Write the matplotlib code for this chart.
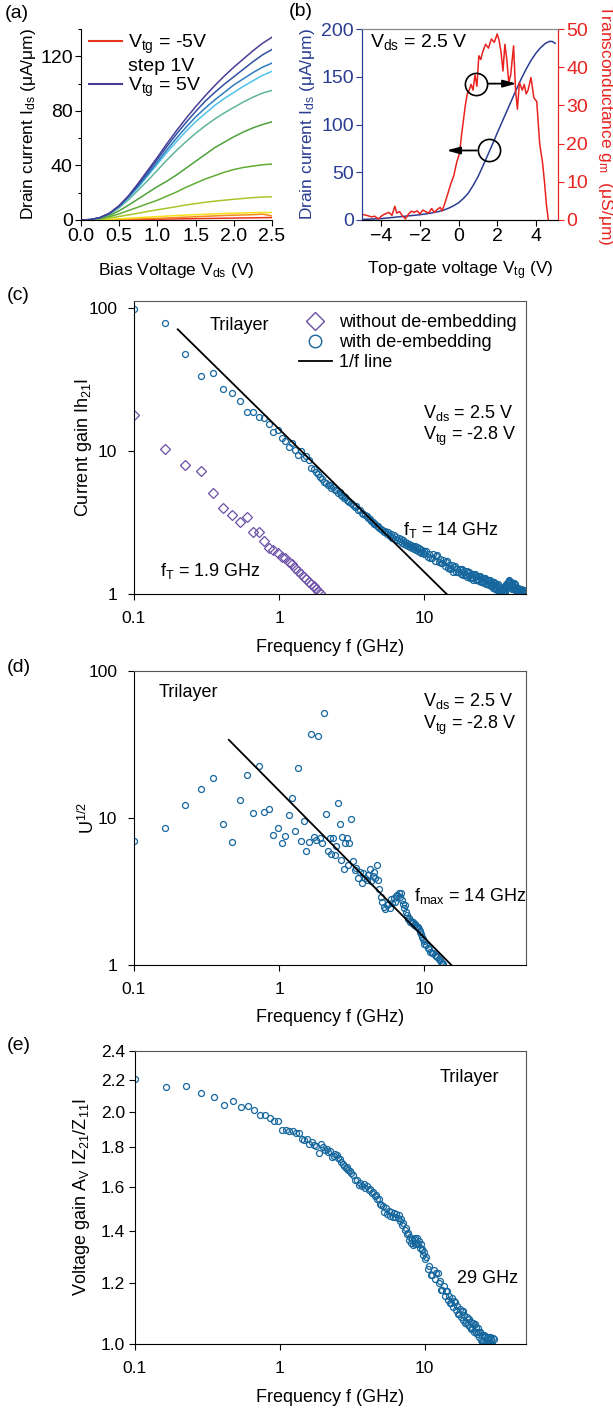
import matplotlib
matplotlib.use("Agg")
import matplotlib.pyplot as plt
from matplotlib.lines import Line2D
from matplotlib.ticker import (FixedLocator, FixedFormatter, NullLocator,
                               MultipleLocator, FormatStrFormatter)

plt.rcParams["font.family"] = ["Liberation Sans", "DejaVu Sans"]
plt.rcParams["mathtext.default"] = "regular"

W, H = 613, 1412

# ---------------- (a) output curves ----------------
bias_v = [0.0, 0.125, 0.25, 0.375, 0.5, 0.625, 0.75, 0.875, 1.0, 1.125, 1.25,
          1.375, 1.5, 1.625, 1.75, 1.875, 2.0, 2.125, 2.25, 2.375, 2.5]
vtg_levels = [-5, -4, -3, -2, -1, 0, 1, 2, 3, 4, 5]
ids_curves = [
    [0, 0, 0, 0.1, 0.2, 0.3, 0.4, 0.5, 0.6, 0.7, 0.8, 0.9, 1.0, 1.1, 1.2, 1.3, 1.4, 1.5, 1.6, 1.7, 1.8],
    [0, 0, 0.1, 0.2, 0.4, 0.6, 0.8, 1.0, 1.2, 1.5, 1.8, 2.1, 2.4, 2.7, 3.0, 3.3, 3.5, 3.7, 3.9, 4.3, 3.0],
    [0, 0, 0.2, 0.5, 0.9, 1.3, 1.7, 2.1, 2.5, 2.9, 3.3, 3.6, 3.9, 4.2, 4.5, 4.8, 5.0, 5.2, 5.4, 5.5, 5.5],
    [0, 0.1, 0.6, 1.5, 2.6, 3.8, 5.0, 6.3, 7.5, 8.6, 9.8, 11, 12, 13, 13.8, 14.5, 15.2, 15.8, 16.4, 16.8, 17],
    [0, 0.2, 1.0, 2.5, 4.5, 7.0, 9.5, 12, 14.5, 17.5, 20.5, 24, 27, 30, 32.5, 35, 37, 38.5, 39.5, 40.5, 41],
    [0, 0.3, 1.3, 3.5, 6.8, 11, 15.5, 20, 24.5, 28.5, 33, 38, 43, 48, 53, 57, 61, 64.5, 67.5, 70, 72],
    [0, 0.3, 1.6, 4.4, 9.0, 15, 22, 29, 36.5, 44, 51, 57.5, 63.5, 69, 74, 78.5, 82.5, 86.5, 90, 93, 95],
    [0, 0.3, 1.7, 4.7, 9.8, 16.5, 24, 32.5, 41, 49.5, 57.5, 65, 72, 78, 84, 89, 93.5, 98, 102, 106, 109],
    [0, 0.3, 1.7, 4.8, 10, 17, 25, 33.5, 42.5, 51.5, 60, 68, 75.5, 82, 88, 93.5, 99, 103.5, 108, 112, 115],
    [0, 0.3, 1.8, 5.0, 10.5, 17.5, 26, 35, 44.5, 54, 63, 71.5, 79.5, 87, 93.5, 99.5, 105, 110.5, 116, 121, 125],
    [0, 0.3, 1.8, 5.0, 10.5, 18, 27, 36.5, 46, 56, 65.5, 74.5, 83, 91, 98.5, 105.5, 112, 118, 124, 129.5, 134],
]
curve_colors = ["#e8341f", "#f28a1e", "#f7e01a", "#a8c62a", "#62ad33", "#4fa23a",
                "#5fb59c", "#4fc3e8", "#2f7cc0", "#2f4f9f", "#4a3d97"]

# ---------------- (b) transfer curve ----------------
vtg_ids = [-5.0, -4.5, -4.0, -3.5, -3.0, -2.5, -2.0, -1.5, -1.0, -0.75, -0.5, -0.25,
           0.0, 0.25, 0.5, 0.75, 1.0, 1.25, 1.5, 1.75, 2.0, 2.25, 2.5, 2.75, 3.0,
           3.25, 3.5, 3.75, 4.0, 4.25, 4.5, 4.7, 4.85, 5.0]
ids_vtg = [0.5, 1, 1.5, 2.5, 3.5, 4.5, 5.5, 7, 9, 10.5, 12.5, 15,
           18, 22.5, 28, 36, 45, 56, 67.5, 79, 91, 102.5, 114, 125.5, 137,
           148, 158, 167, 174.5, 180.5, 185, 187, 187, 185]
vtg_gm = [-4.92, -4.75, -4.5, -4.35, -4.15, -3.95, -3.8, -3.6, -3.45, -3.3, -3.2, -3.05,
          -2.9, -2.75, -2.6, -2.45, -2.3, -2.15, -2.0, -1.85, -1.7, -1.55, -1.4, -1.25,
          -1.1, -0.95, -0.85, -0.7, -0.55, -0.4, -0.25, -0.1, 0.05, 0.15, 0.25, 0.35,
          0.45, 0.55, 0.65, 0.75, 0.85, 0.95, 1.05, 1.15, 1.25, 1.4, 1.55, 1.7, 1.85,
          2.0, 2.1, 2.2, 2.3, 2.4, 2.5, 2.6, 2.7, 2.85, 2.95, 3.05, 3.15, 3.3, 3.4,
          3.5, 3.6, 3.75, 3.9, 4.05, 4.2, 4.35, 4.45, 4.55, 4.65]
gm_vtg = [1.4, 1.2, 0.8, 1.0, 0.3, 1.2, 1.6, 2.0, 1.2, 3.6, 1.8, 2.2,
          1.0, 0.3, 1.5, 2.3, 2.0, 2.4, 1.6, 2.6, 2.2, 1.8, 3.0, 2.0,
          2.8, 3.3, 2.4, 4.5, 7.0, 9.5, 11.5, 15.0, 17.5, 22, 26, 30,
          33, 34, 35.5, 34, 38, 35, 43, 42, 44, 46, 45, 47.4, 46.5,
          48.7, 47, 44, 39, 46, 42, 36, 38, 45.6, 34, 29, 36, 34, 35.5,
          33, 34, 37.3, 32, 31, 20, 15, 10, 4, 0]

# ---------------- (c)-(e) RF data, common frequency sweep (GHz) ----------------
freq_ghz = [
    0.1, 0.1625, 0.225, 0.2875, 0.35, 0.4125, 0.475, 0.5375, 0.6, 0.6625,
    0.725, 0.7875, 0.85, 0.9125, 0.975, 1.0375, 1.1, 1.1625, 1.225, 1.2875,
    1.35, 1.4125, 1.475, 1.5375, 1.6, 1.6625, 1.725, 1.7875, 1.85, 1.9125,
    1.975, 2.0375, 2.1, 2.1625, 2.225, 2.2875, 2.35, 2.4125, 2.475, 2.5375,
    2.6, 2.6625, 2.725, 2.7875, 2.85, 2.9125, 2.975, 3.0375, 3.1,
    3.2, 3.3, 3.4, 3.5, 3.6, 3.7, 3.8, 3.9, 4.0, 4.1,
    4.2, 4.3, 4.4, 4.5, 4.6, 4.7, 4.8, 4.9, 5.0,
    5.125, 5.25, 5.375, 5.5, 5.625, 5.75, 5.875, 6.0, 6.125, 6.25,
    6.375, 6.5, 6.625, 6.75, 6.875, 7.0, 7.125, 7.25, 7.375, 7.5,
    7.625, 7.75, 7.875, 8.0, 8.125, 8.25, 8.375, 8.5, 8.625, 8.75,
    8.875, 9.0, 9.125, 9.25, 9.375, 9.5, 9.625, 9.75, 9.875, 10.0,
    10.25, 10.5, 10.75, 11.0, 11.25, 11.5, 11.75, 12.0, 12.25, 12.5, 12.75, 13.0,
    13.25, 13.5, 13.75, 14.0, 14.25, 14.5, 14.75, 15.0, 15.25, 15.5, 15.75, 16.0,
    16.25, 16.5, 16.75, 17.0, 17.25, 17.5, 17.75, 18.0, 18.25, 18.5, 18.75, 19.0,
    19.25, 19.5, 19.75, 20.0, 20.25, 20.5, 20.75, 21.0, 21.25, 21.5, 21.75, 22.0,
    22.25, 22.5, 22.75, 23.0, 23.25, 23.5, 23.75, 24.0, 24.25, 24.5, 24.75, 25.0,
    25.25, 25.5, 25.75, 26.0, 26.25, 26.5, 26.75, 27.0, 27.25, 27.5, 27.75, 28.0,
    28.25, 28.5, 28.75, 29.0, 29.25, 29.5, 29.75, 30.0, 30.25, 30.5, 30.75, 31.0,
    31.25, 31.5, 31.75, 32.0, 32.25, 32.5, 32.75, 33.0, 33.25, 33.5, 33.75, 34.0,
    34.25, 34.5, 34.75, 35.0, 35.25, 35.5, 35.75, 36.0, 36.25, 36.5, 36.75, 37.0,
    37.25, 37.5, 37.75, 38.0, 38.25, 38.5, 38.75, 39.0, 39.25, 39.5, 39.75, 40.0,
    40.25, 40.5, 40.75, 41.0, 41.25, 41.5, 41.75, 42.0, 42.25, 42.5, 42.75, 43.0,
    43.25, 43.5, 43.75, 44.0, 44.25, 44.5, 44.75, 45.0, 45.25, 45.5, 45.75, 46.0,
    46.25, 46.5, 46.75, 47.0, 47.25, 47.5, 47.75, 48.0, 48.25, 48.5, 48.75, 49.0,
    49.25, 49.5, 49.75, 50.0,
]

h21_raw = [17.9, 10.4, 8.0, 7.3, 5.06, 3.97, 3.57, 3.2, 3.47, 2.7,
           2.73, 2.35, 2.11, 2.03, 1.92, 1.82, 1.78, 1.68, 1.61, 1.51,
           1.45, 1.38, 1.32, 1.27, 1.22, 1.17, 1.13, 1.09, 1.05, 1.01]

h21_deemb = [
    98, 78, 47.5, 33.5, 35, 27, 25.6, 22.4, 18.8, 18.7,
    17.4, 16.9, 15.4, 13.5, 14.0, 12.3, 11.7, 10.7, 11.3, 10.2,
    9.4, 10.0, 8.9, 9.2, 8.6, 7.6, 7.5, 7.1, 6.9, 6.6,
    6.4, 6.1, 6.0, 5.8, 5.75, 5.55, 5.6, 5.35, 5.3, 5.1,
    5.15, 4.95, 4.85, 4.7, 4.75, 4.55, 4.5, 4.4, 4.35,
    4.22, 4.05, 4.1, 3.88, 3.85, 3.7, 3.62, 3.55, 3.5, 3.38,
    3.35, 3.22, 3.2, 3.1, 3.08, 2.98, 2.97, 2.88, 2.84,
    2.80, 2.70, 2.76, 2.62, 2.70, 2.56, 2.62, 2.48, 2.57, 2.44,
    2.51, 2.38, 2.47, 2.34, 2.41, 2.28, 2.37, 2.24, 2.32, 2.20,
    2.28, 2.16, 2.24, 2.12, 2.21, 2.09, 2.18, 2.06, 2.15, 2.03,
    2.12, 2.00, 2.09, 1.97, 2.06, 1.94, 2.03, 1.92, 2.00, 1.89,
    2.01, 1.81, 1.91, 1.79, 1.80, 1.89, 1.71, 1.83, 1.86, 1.68, 1.76, 1.66,
    1.66, 1.74, 1.57, 1.68, 1.69, 1.53, 1.60, 1.50, 1.51, 1.59, 1.43, 1.55,
    1.56, 1.42, 1.50, 1.42, 1.42, 1.50, 1.37, 1.47, 1.49, 1.35, 1.44, 1.36,
    1.36, 1.44, 1.31, 1.41, 1.43, 1.30, 1.38, 1.30, 1.31, 1.38, 1.26, 1.36,
    1.39, 1.26, 1.34, 1.26, 1.27, 1.34, 1.23, 1.32, 1.34, 1.22, 1.30, 1.22,
    1.23, 1.30, 1.19, 1.28, 1.30, 1.18, 1.25, 1.18, 1.20, 1.26, 1.15, 1.24,
    1.26, 1.14, 1.21, 1.14, 1.16, 1.22, 1.11, 1.19, 1.21, 1.09, 1.16, 1.10,
    1.11, 1.16, 1.06, 1.14, 1.17, 1.06, 1.12, 1.06, 1.06, 1.11, 1.02, 1.09,
    1.11, 1.01, 1.07, 1.03, 1.05, 1.12, 1.04, 1.13, 1.18, 1.08, 1.16, 1.12,
    1.14, 1.22, 1.12, 1.23, 1.25, 1.14, 1.21, 1.14, 1.15, 1.21, 1.09, 1.17,
    1.19, 1.08, 1.14, 1.10, 1.12, 1.20, 1.08, 1.16, 1.17, 1.06, 1.11, 1.05,
    1.05, 1.10, 1.01, 1.08, 1.10, 1.01, 1.06, 1.01, 1.02, 1.08, 0.99, 1.06,
    1.08, 1.00, 1.05, 1.00, 1.00, 1.06, 0.99, 1.05, 1.07, 1.00, 1.04, 0.99,
    1.00, 1.05, 0.99, 1.04,
]
one_over_f_c = ([0.2, 14.2], [71, 1])

u_half = [
    7.0, 8.6, 12.3, 15.7, 18.7, 9.1, 6.9, 13.3, 19.7, 10.8,
    22.7, 11.0, 11.6, 7.7, 8.6, 6.8, 7.5, 10.5, 13.7, 8.1,
    22, 7.0, 9.6, 6.0, 6.9, 37.3, 7.4, 7.1, 36.3, 7.35,
    6.8, 51.5, 10.6, 6.0, 7.3, 5.7, 7.3, 5.6, 6.5, 12.6,
    9.1, 5.2, 7.4, 4.5, 6.8, 7.3, 4.8, 6.8, 9.9,
    5.1, 4.4, 4.6, 3.9, 4.3, 3.6, 4.2, 3.9, 3.8, 4.1,
    4.5, 3.7, 4.0, 4.3, 3.9, 4.8, 3.8, 3.3, 2.9,
    2.7, 2.5, 2.4, 2.55, 2.6, 2.45, 2.8, 2.65, 2.85, 2.7,
    2.95, 3.0, 3.1, 2.9, 3.07, 2.75, 2.6, 2.45, 2.55, 2.3,
    2.2, 2.05, 2.1, 1.95, 2.0, 1.92, 1.95, 1.88, 1.9, 1.85,
    1.8, 1.82, 1.75, 1.7, 1.68, 1.62, 1.55, 1.5, 1.45, 1.4,
    1.36, 1.3, 1.28, 1.23, 1.21, 1.2, 1.17, 1.16, 1.14, 1.1, 1.08, 1.04,
    1.03, 1.01,
]
one_over_f_d = ([0.45, 15.3], [34, 1])

av_gain = [
    2.21, 2.155, 2.16, 2.12, 2.09, 2.045, 2.07, 2.03, 2.035, 2.012,
    1.98, 1.982, 1.965, 1.945, 1.945, 1.895, 1.895, 1.89, 1.888, 1.88,
    1.876, 1.845, 1.84, 1.843, 1.82, 1.826, 1.81, 1.805, 1.77, 1.816,
    1.80, 1.785, 1.79, 1.775, 1.78, 1.75, 1.755, 1.765, 1.76, 1.745,
    1.74, 1.72, 1.71, 1.70, 1.69, 1.695, 1.68, 1.675, 1.665,
    1.655, 1.63, 1.63, 1.61, 1.62, 1.605, 1.615, 1.595, 1.605, 1.585,
    1.59, 1.57, 1.575, 1.555, 1.56, 1.54, 1.54, 1.52, 1.515,
    1.51, 1.485, 1.50, 1.475, 1.49, 1.468, 1.484, 1.462, 1.48, 1.46,
    1.476, 1.455, 1.47, 1.445, 1.452, 1.428, 1.435, 1.405, 1.415, 1.39,
    1.395, 1.366, 1.375, 1.352, 1.37, 1.346, 1.368, 1.349, 1.372, 1.354,
    1.374, 1.349, 1.36, 1.334, 1.347, 1.324, 1.33, 1.304, 1.315, 1.29,
    1.295, 1.252, 1.263, 1.230, 1.230, 1.247, 1.216, 1.238, 1.237, 1.200, 1.207, 1.176,
    1.174, 1.188, 1.154, 1.171, 1.172, 1.141, 1.155, 1.129, 1.130, 1.146, 1.116, 1.136,
    1.135, 1.106, 1.119, 1.095, 1.095, 1.111, 1.083, 1.103, 1.103, 1.075, 1.089, 1.066,
    1.067, 1.084, 1.057, 1.077, 1.079, 1.052, 1.067, 1.045, 1.048, 1.065, 1.038, 1.058,
    1.062, 1.037, 1.052, 1.031, 1.035, 1.049, 1.021, 1.037, 1.037, 1.012, 1.026, 1.006,
    1.009, 1.026, 1.002, 1.022, 1.025, 1.002, 1.018, 1.0, 1.004, 1.022, 1.001, 1.020,
    1.022, 0.999, 1.014, 0.995, 0.999, 1.017, 0.993, 1.014,
]

BLUE_B = "#2b3d92"
RED_B = "#e8231f"
CIRC = "#16679e"
DIAM = "#6b4fa8"

fig = plt.figure(figsize=(W / 100, H / 100), dpi=100)


def add_axes_px(left, top, right, bottom):
    return fig.add_axes([left / W, 1 - bottom / H, (right - left) / W, (bottom - top) / H])


def center_labels(ax, xl, yl):
    ax.xaxis.set_label_coords(*xl)
    ax.yaxis.set_label_coords(*yl)
    ax.xaxis.label.set_va("center")
    ax.yaxis.label.set_va("center")


# ---- (a)
ax = add_axes_px(81, 29, 272, 220)
for ids, color in zip(ids_curves, curve_colors):
    ax.plot(bias_v, ids, color=color, lw=1.1)
ax.set_xlim(0, 2.5)
ax.set_ylim(0, 140)
ax.set_xticks([0, 0.5, 1.0, 1.5, 2.0, 2.5])
ax.xaxis.set_major_formatter(FormatStrFormatter("%.1f"))
ax.set_yticks([0, 40, 80, 120])
ax.yaxis.set_minor_locator(MultipleLocator(20))
for side in ("top", "right"):
    ax.spines[side].set_visible(False)
ax.tick_params(direction="out", length=4, width=0.8, labelsize=14, pad=2)
ax.tick_params(which="minor", direction="out", length=2.5, width=0.8)
ax.set_xlabel("Bias Voltage V$_{ds}$ (V)", fontsize=12.5)
ax.set_ylabel("Drain current I$_{ds}$ (μA/μm)", fontsize=12.5)
center_labels(ax, (0.5, -0.262), (-0.277, 0.5))
handles = [Line2D([], [], color=curve_colors[0], lw=1.5),
           Line2D([], [], color="none"),
           Line2D([], [], color=curve_colors[-1], lw=1.5)]
ax.legend(handles, ["V$_{tg}$ = -5V", "step 1V", "V$_{tg}$ = 5V"], loc="upper left",
          bbox_to_anchor=(0.04, 0.98), frameon=False, fontsize=14, handlelength=1.7,
          handletextpad=0.3, labelspacing=0.05, borderaxespad=0, borderpad=0)

# ---- (b)
ax = add_axes_px(362, 29, 558, 220)
ax2 = ax.twinx()
ax.plot(vtg_ids, ids_vtg, color=BLUE_B, lw=1.1)
ax2.plot(vtg_gm, gm_vtg, color=RED_B, lw=1.1)
ax.set_xlim(-5.0, 5.15)
ax.set_ylim(0, 200)
ax2.set_ylim(0, 50)
ax.set_xticks([-4, -2, 0, 2, 4])
ax.set_yticks([0, 50, 100, 150, 200])
ax2.set_yticks([0, 10, 20, 30, 40, 50])
ax.tick_params(direction="out", length=4, width=0.8, labelsize=14, pad=2)
ax.tick_params(axis="y", colors=BLUE_B)
ax2.tick_params(direction="out", length=4, width=0.8, labelsize=14, pad=2, colors=RED_B)
for a in (ax, ax2):
    a.spines["left"].set_color(BLUE_B)
    a.spines["right"].set_color(RED_B)
    a.spines["top"].set_color("#888888")
ax.set_xlabel("Top-gate voltage V$_{tg}$ (V)", fontsize=12.5)
ax.set_ylabel("Drain current I$_{ds}$ (μA/μm)", fontsize=12.5, color=BLUE_B)
ax2.set_ylabel("Transconductance g$_m$  (μS/μm)", fontsize=12.5, color=RED_B, rotation=270)
center_labels(ax, (0.5, -0.267), (-0.276, 0.5))
ax2.yaxis.set_label_coords(1.24, 0.5)
ax2.yaxis.label.set_va("center")
ax.text(0.04, 0.93, "V$_{ds}$ = 2.5 V", transform=ax.transAxes, fontsize=14, va="center")
ax2.plot([0.88], [35.7], "o", ms=16, mfc="none", mec="k", mew=1.2)
ax2.plot([1.58], [18.3], "o", ms=16, mfc="none", mec="k", mew=1.2)
arrow = dict(arrowstyle="-|>,head_length=0.8,head_width=0.22", color="k", lw=1.3,
             shrinkA=0, shrinkB=0)
ax2.annotate("", xy=(3.0, 35.7), xytext=(1.55, 35.7), arrowprops=arrow)
ax2.annotate("", xy=(-0.62, 18.2), xytext=(0.95, 18.2), arrowprops=arrow)


def style_rf(ax, ylim, yticks, ylabels, ypad):
    ax.set_xscale("log")
    ax.set_yscale("log")
    ax.set_xlim(0.1, 50)
    ax.set_ylim(*ylim)
    ax.xaxis.set_major_locator(FixedLocator([0.1, 1, 10]))
    ax.xaxis.set_major_formatter(FixedFormatter(["0.1", "1", "10"]))
    ax.yaxis.set_major_locator(FixedLocator(yticks))
    ax.yaxis.set_major_formatter(FixedFormatter(ylabels))
    ax.xaxis.set_minor_locator(NullLocator())
    ax.yaxis.set_minor_locator(NullLocator())
    ax.tick_params(direction="out", length=4, width=0.8, labelsize=12.5)
    ax.tick_params(axis="x", pad=8)
    ax.tick_params(axis="y", pad=ypad)
    for side in ("top", "right"):
        ax.spines[side].set_color("#555555")
    ax.set_xlabel("Frequency f (GHz)", fontsize=13)


def rf_points(ax, values, **kw):
    ax.plot(freq_ghz[:len(values)], values, "o", ls="none", ms=4.3, mfc="none",
            mec=CIRC, mew=0.9, **kw)


# ---- (c)
ax = add_axes_px(134, 301, 526, 594)
ax.plot(freq_ghz[:len(h21_raw)], h21_raw, "D", ls="none", ms=5, mfc="none", mec=DIAM, mew=0.9)
rf_points(ax, h21_deemb)
ax.plot(*one_over_f_c, color="k", lw=1.3)
style_rf(ax, (1, 112), [1, 10, 100], ["1", "10", "100"], 8)
ax.set_ylabel("Current gain Ih$_{21}$I", fontsize=13)
center_labels(ax, (0.5, -0.181), (-0.128, 0.5))
handles = [Line2D([], [], marker="D", ls="none", ms=9, mfc="none", mec=DIAM, mew=1.0),
           Line2D([], [], marker="o", ls="none", ms=9, mfc="none", mec=CIRC, mew=1.0),
           Line2D([], [], color="k", lw=1.3)]
ax.legend(handles, ["without de-embedding", "with de-embedding", "1/f line"], loc="upper left",
          bbox_to_anchor=(0.421, 0.955), frameon=False, fontsize=13, handlelength=1.8,
          handletextpad=0.42, labelspacing=0.17, borderaxespad=0, borderpad=0)
ax.text(0.194, 0.915, "Trilayer", transform=ax.transAxes, fontsize=13, va="center")
ax.text(0.737, 0.617, "V$_{ds}$ = 2.5 V", transform=ax.transAxes, fontsize=13, va="center")
ax.text(0.737, 0.537, "V$_{tg}$ = -2.8 V", transform=ax.transAxes, fontsize=13, va="center")
ax.text(0.685, 0.218, "f$_T$ = 14 GHz", transform=ax.transAxes, fontsize=13, va="center")
ax.text(0.067, 0.078, "f$_T$ = 1.9 GHz", transform=ax.transAxes, fontsize=13, va="center")

# ---- (d)
ax = add_axes_px(134, 671, 526, 965)
rf_points(ax, u_half)
ax.plot(*one_over_f_d, color="k", lw=1.3)
style_rf(ax, (1, 100), [1, 10, 100], ["1", "10", "100"], 8)
ax.set_ylabel("U$^{1/2}$", fontsize=13)
center_labels(ax, (0.5, -0.18), (-0.117, 0.5))
ax.text(0.062, 0.927, "Trilayer", transform=ax.transAxes, fontsize=13, va="center")
ax.text(0.737, 0.898, "V$_{ds}$ = 2.5 V", transform=ax.transAxes, fontsize=13, va="center")
ax.text(0.737, 0.816, "V$_{tg}$ = -2.8 V", transform=ax.transAxes, fontsize=13, va="center")
ax.text(0.715, 0.236, "f$_{max}$ = 14 GHz", transform=ax.transAxes, fontsize=13, va="center")

# ---- (e)
ax = add_axes_px(135, 1051, 526, 1344)
rf_points(ax, av_gain)
style_rf(ax, (1.0, 2.4), [1.0, 1.2, 1.4, 1.6, 1.8, 2.0, 2.2, 2.4],
         ["1.0", "1.2", "1.4", "1.6", "1.8", "2.0", "2.2", "2.4"], 3)
ax.set_ylabel("Voltage gain A$_V$ IZ$_{21}$/Z$_{11}$I", fontsize=13)
center_labels(ax, (0.5, -0.181), (-0.136, 0.5))
ax.text(0.779, 0.909, "Trilayer", transform=ax.transAxes, fontsize=13, va="center")
ax.text(0.823, 0.224, "29 GHz", transform=ax.transAxes, fontsize=13, va="center")

# panel letters
for label, x, y in [("(a)", 5, 13), ("(b)", 289, 12), ("(c)", 7, 295), ("(d)", 7, 667), ("(e)", 7, 1046)]:
    fig.text(x / W, 1 - y / H, label, fontsize=14, va="center", ha="left")

fig.savefig("out.png", dpi=100)
